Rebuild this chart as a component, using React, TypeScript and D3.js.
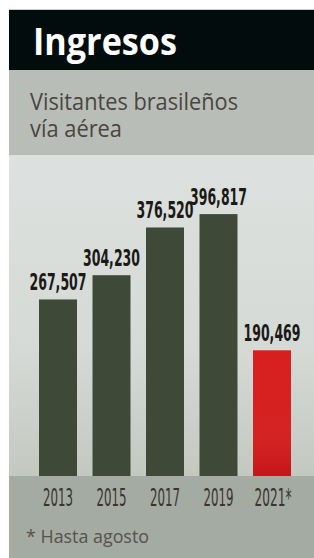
import * as d3 from "d3";

const years = ["2013", "2015", "2017", "2019", "2021*"];
const visitors = [267507, 304230, 376520, 396817, 190469];
const valueLabels = ["267,507", "304,230", "376,520", "396,817", "190,469"];
const highlight = ["2021*"];

const W = 314;
const H = 558;
const left = 9;
const chartTop = 155;
const baseY = 476;

export default function App() {
  const x = d3
    .scaleBand<string>()
    .domain(years)
    .range([31.25, 298.75])
    .paddingInner(0.29)
    .paddingOuter(0.145);
  const y = d3.scaleLinear().domain([0, 400000]).range([baseY, 212]);

  const condensed = "'DejaVu Sans Condensed', 'DejaVu Sans', sans-serif";
  const humanist = "'Open Sans', 'Noto Sans', sans-serif";

  return (
    <svg
      width={W}
      height={H}
      viewBox={`0 0 ${W} ${H}`}
      style={{ position: "absolute", left: 0, top: 0, background: "#fff" }}
    >
      <defs>
        <linearGradient id="plotBg" x1="0" y1="0" x2="0" y2="1">
          <stop offset="0" stopColor="#dde1df" />
          <stop offset="0.6" stopColor="#d6dad6" />
          <stop offset="1" stopColor="#c3c8c1" />
        </linearGradient>
        <linearGradient id="redBar" x1="0" y1="0" x2="0" y2="1">
          <stop offset="0" stopColor="#d81f20" />
          <stop offset="0.75" stopColor="#d42222" />
          <stop offset="1" stopColor="#c3161a" />
        </linearGradient>
      </defs>

      {/* header */}
      <rect x={left} y={9} width={W - left} height={1} fill="#c9cccb" />
      <rect x={left} y={10} width={W - left} height={60} fill="#020c0c" />
      <text
        x={33}
        y={55}
        fill="#ffffff"
        fontFamily={humanist}
        fontWeight={700}
        fontSize={37}
        textLength={144}
        lengthAdjust="spacingAndGlyphs"
      >
        Ingresos
      </text>

      {/* subtitle band */}
      <rect x={left} y={70} width={W - left} height={chartTop - 70} fill="#b8beb7" />
      <text
        x={30}
        y={110}
        fill="#4a453f"
        fontFamily={humanist}
        fontSize={23}
        textLength={208}
        lengthAdjust="spacingAndGlyphs"
      >
        Visitantes brasileños
      </text>
      <text
        x={30}
        y={137}
        fill="#4a453f"
        fontFamily={humanist}
        fontSize={23}
        textLength={92}
        lengthAdjust="spacingAndGlyphs"
      >
        vía aérea
      </text>

      {/* plot area */}
      <rect x={left} y={chartTop} width={W - left} height={baseY - chartTop} fill="url(#plotBg)" />
      <rect x={left} y={baseY} width={W - left} height={H - baseY} fill="#a3aba2" />

      {years.map((yr, i) => {
        const bx = x(yr) ?? 0;
        const top = y(visitors[i]);
        const isHi = highlight.includes(yr);
        return (
          <g key={yr}>
            <rect
              x={bx}
              y={top}
              width={x.bandwidth()}
              height={baseY - top}
              fill={isHi ? "url(#redBar)" : "#3e4a37"}
            />
            <text
              x={bx + x.bandwidth() / 2}
              y={top - 9}
              textAnchor="middle"
              fill="#1b1a17"
              fontFamily={condensed}
              fontWeight={700}
              fontSize={23}
              textLength={57}
              lengthAdjust="spacingAndGlyphs"
            >
              {valueLabels[i]}
            </text>
            <text
              x={bx + x.bandwidth() / 2 + (yr.endsWith("*") ? 1 : 0)}
              y={506}
              textAnchor="middle"
              fill="#3a342e"
              fontFamily={condensed}
              fontSize={25}
              textLength={yr.endsWith("*") ? 37 : 30}
              lengthAdjust="spacingAndGlyphs"
            >
              {yr}
            </text>
          </g>
        );
      })}

      <text
        x={26}
        y={543}
        fill="#57524c"
        fontFamily={humanist}
        fontSize={19}
        textLength={123}
        lengthAdjust="spacingAndGlyphs"
      >
        * Hasta agosto
      </text>
    </svg>
  );
}
